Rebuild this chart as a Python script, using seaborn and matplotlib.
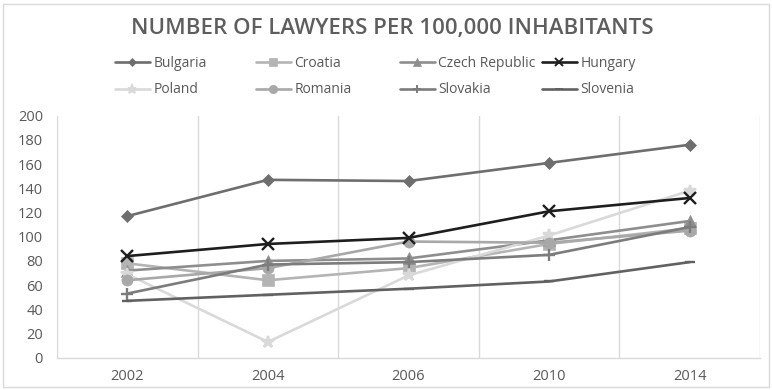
import matplotlib
matplotlib.use("Agg")
import matplotlib.pyplot as plt
import seaborn as sns
import pandas as pd
from matplotlib.lines import Line2D
from matplotlib.patches import Rectangle

years = ["2002", "2004", "2006", "2010", "2014"]
countries = ["Bulgaria", "Croatia", "Czech Republic", "Hungary",
             "Poland", "Romania", "Slovakia", "Slovenia"]
bulgaria = [117, 147, 146, 161, 176]
croatia = [78, 64, 74, 94, 107]
czech = [72, 80, 82, 97, 113]
hungary = [84, 94, 99, 121, 132]
poland = [69, 13, 68, 101, 138]
romania = [64, 74, 96, 95, 105]
slovakia = [53, 77, 79, 85, 108]
slovenia = [47, 52, 57, 63, 79]
values = [bulgaria, croatia, czech, hungary, poland, romania, slovakia, slovenia]

colors = ["#6e6e6e", "#b4b4b4", "#8e8e8e", "#1e1e1e",
          "#d9d9d9", "#a8a8a8", "#7c7c7c", "#616161"]
markers = ["D", "s", "^", "x", "*", "o", "+", "_"]
msizes = [6, 8, 8, 8, 9, 8, 8, 7]

rows = []
for c, vals in zip(countries, values):
    for y, v in zip(years, vals):
        rows.append({"Year": y, "Value": v, "Country": c})
df = pd.DataFrame(rows)

sns.set_theme(style="white")
plt.rcParams["font.family"] = ["Open Sans", "DejaVu Sans"]

fig = plt.figure(figsize=(7.72, 3.90), dpi=100)
ax = fig.add_axes([57/772, 1-357.7/390, (760-57)/772, (357.7-115.7)/390])

for c, col, m, ms in zip(countries, colors, markers, msizes):
    sub = df[df["Country"] == c]
    sns.lineplot(data=sub, x="Year", y="Value", ax=ax, color=col, linewidth=1.9,
                 marker=m, markersize=ms, markeredgecolor=col,
                 markeredgewidth=1.7 if m in ("x", "+", "*", "_") else 0.5,
                 legend=False, zorder=3 if c != "Hungary" else 4)

ax.set_xlim(-0.5, 4.5)
ax.set_ylim(0, 200)
ax.set_yticks(range(0, 201, 20))
ax.set_xlabel("")
ax.set_ylabel("")
for s in ["top", "right", "left"]:
    ax.spines[s].set_visible(False)
ax.spines["bottom"].set_color("#d9d9d9")
ax.spines["bottom"].set_linewidth(1)
for xv in [-0.5, 0.5, 1.5, 2.5, 3.5, 4.5]:
    ax.axvline(xv, color="#d9d9d9", linewidth=1, zorder=0)
ax.tick_params(axis="y", labelsize=10.5, colors="#595959", length=0, pad=10)
ax.tick_params(axis="x", labelsize=10.5, colors="#595959", length=0, pad=8)

fig.text(392/772, 1-28.5/390, "NUMBER OF LAWYERS PER 100,000 INHABITANTS",
         ha="center", va="center", fontsize=16, color="#5e5e5e",
         fontweight="semibold")

handles = []
for c, col, m, ms in zip(countries, colors, markers, msizes):
    handles.append(Line2D([0], [0], color=col, linewidth=1.9, marker=m,
                          markersize=ms * 0.75, markeredgecolor=col,
                          markeredgewidth=1.4 if m in ("x", "+", "*", "_") else 0.5))
col_x = [115, 256, 400, 542]
for j in range(4):
    leg = fig.legend([handles[j], handles[j + 4]], [countries[j], countries[j + 4]],
                     ncol=1, loc="center left",
                     bbox_to_anchor=(col_x[j]/772, 1-76.5/390),
                     frameon=False, fontsize=10, handlelength=2.5, handletextpad=0.25,
                     labelspacing=0.85, borderpad=0, borderaxespad=0)
    for t in leg.get_texts():
        t.set_color("#595959")

fig.patches.append(Rectangle((3/772, 3/390), 766/772, 383/390, transform=fig.transFigure,
                             fill=False, edgecolor="#d9d9d9", linewidth=1))

fig.savefig("out.png", dpi=100)
